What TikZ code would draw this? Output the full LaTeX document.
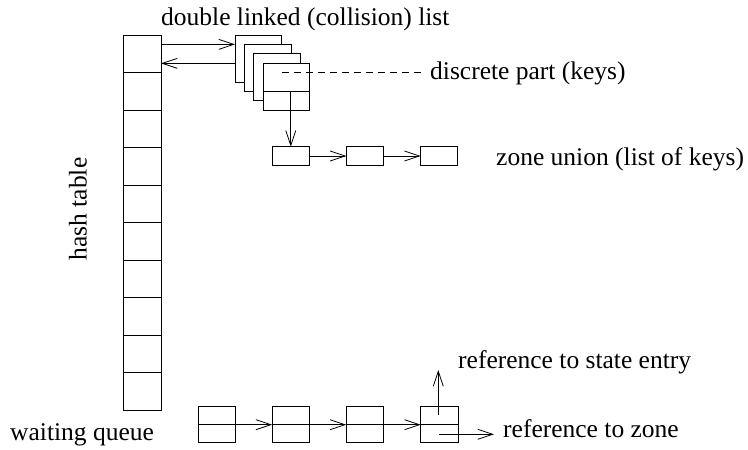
\documentclass[tikz,border=0pt]{standalone}
\usepackage{fontspec}
\setmainfont{Liberation Serif}
\usetikzlibrary{arrows.meta,calc,positioning}
\tikzset{
  box/.style={draw, rectangle, inner sep=0pt, outer sep=0pt, line width=0.8pt},
  cell/.style={box, minimum width=37.7pt, minimum height=37.5pt},
  card/.style={box, fill=white, minimum width=46.5pt, minimum height=47pt},
  zone/.style={box, minimum width=37pt, minimum height=18.5pt},
  entry/.style={box, minimum width=37.3pt, minimum height=36pt},
  link/.style={-{Straight Barb[length=15pt,width=10pt]}, line width=0.8pt},
  textlabel/.style={anchor=base west, inner sep=0pt, font=\fontsize{25.5}{28}\selectfont}
}

\begin{document}
\begin{tikzpicture}[x=1pt,y=-1pt]
  \useasboundingbox (0,0) rectangle (748,450);

  % hash table
  \foreach \i in {0,...,9}
    \node[cell] (h\i) at (142.2,{53.75+37.5*\i}) {};
  \node (hash_label) [textlabel, anchor=center, rotate=90] at (78,209) {hash table};

  % collision list
  \node[card] (card1) at (258.3,58.5) {};
  \node[card] (card2) at (267.7,67.8) {};
  \node[card] (card3) at (277,77.3) {};
  \node[card] (card4) at (286.2,86.7) {};
  \coordinate (keys_split) at ($(card4.center)+(0,4.6)$);
  \draw[line width=0.8pt] (card4.west |- keys_split) -- (card4.east |- keys_split);
  \node (list_label) [textlabel] at (161,25) {double linked (collision) list};

  \draw[link] ($(h0.east)+(0,-9.4)$) coordinate (fwd) -- (fwd -| card1.west);
  \draw[link] ($(h0.east)+(0,9.6)$) coordinate (bwd) (bwd -| card1.west) -- (bwd);

  % discrete part
  \node (keys_label) [textlabel] at (430,79.3) {discrete part (keys)};
  \coordinate (keys_dot) at ($(card4.center)+(-4.5,-14)$);
  \draw[dashed, dash pattern=on 7pt off 5pt, line width=0.8pt, shorten >=9pt] (keys_dot) -- (keys_dot -| keys_label.west);

  % zone union
  \node[zone] (z1) at (290.8,156) {};
  \node[zone] (z2) at (364.8,156) {};
  \node[zone] (z3) at (439.2,156) {};
  \node (zone_label) [textlabel] at (496,165) {zone union (list of keys)};
  \draw[link] (z1.north |- keys_split) -- (z1.north);
  \draw[link] (z1) -- (z2);
  \draw[link] (z2) -- (z3);

  % waiting queue
  \foreach \i/\x in {1/216.7,2/290.8,3/365,4/439.5}
  {
    \node[entry] (q\i) at (\x,424.7) {};
    \draw[line width=0.8pt] (q\i.west) -- (q\i.east);
  }
  \draw[link] (q1.east) -- (q2.west);
  \draw[link] (q2.east) -- (q3.west);
  \draw[link] (q3.east) -- (q4.west);
  \node (queue_label) [textlabel] at (10,440) {waiting queue};

  \coordinate (state_tail) at ($(q4.center)+(-1.2,-9.7)$);
  \coordinate (state_tip) at ($(state_tail)+(0,-45)$);
  \draw[link] (state_tail) -- (state_tip);
  \node (state_label) [textlabel] at (458,368) {reference to state entry};

  \coordinate (zone_tail) at ($(q4.center)+(-0.2,9.6)$);
  \coordinate (zone_tip) at ($(zone_tail)+(54.7,0)$);
  \draw[link] (zone_tail) -- (zone_tip);
  \node (zref_label) [textlabel] at (503,437) {reference to zone};
\end{tikzpicture}
\end{document}
